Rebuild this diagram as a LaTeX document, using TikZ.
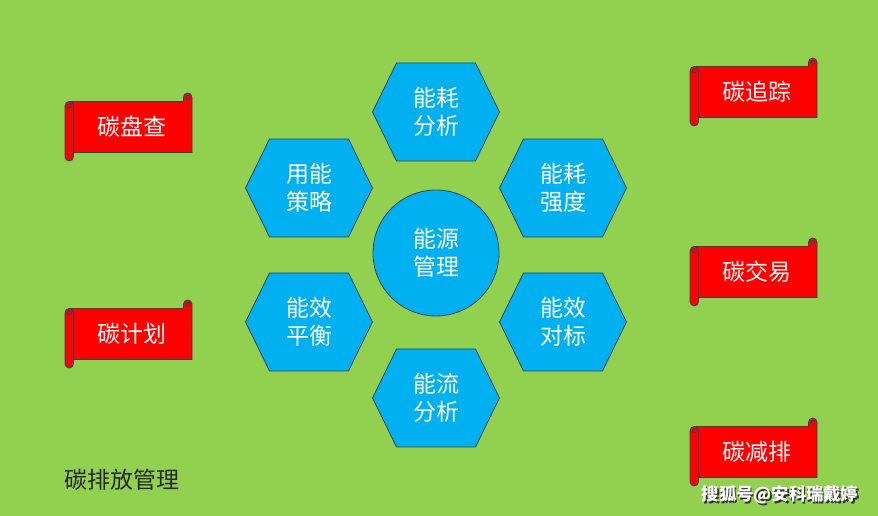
\documentclass[tikz,border=0pt]{standalone}
\usepackage{fontspec}
\newfontfamily\cjk{Noto Sans CJK SC}
\usetikzlibrary{calc}

\definecolor{bggreen}{RGB}{146,208,80}
\definecolor{hexblue}{RGB}{0,176,240}
\definecolor{edgegray}{RGB}{45,70,85}
\definecolor{scrollred}{RGB}{255,0,0}

% hexagon: x, y, name, text
\newcommand{\hexa}[4]{%
  \draw[hexfill] (#1-63.5,#2) -- (#1-39.5,#2+49) -- (#1+39.5,#2+49)
    -- (#1+63.5,#2) -- (#1+39.5,#2-49) -- (#1-39.5,#2-49) -- cycle;
  \node[cntext] (#3) at (#1,#2) {#4};}

% scroll: left x, top y, name, text
\newcommand{\scrollbox}[4]{%
  \begin{scope}[shift={(#1,#2)}]
    \draw[scrollfill] (4.25,-8.5) -- (118.5,-8.5) -- (118.5,-4.25)
      arc[start angle=180,end angle=0,radius=4.25pt] -- (127,-59.5) -- (4.25,-59.5) -- cycle;
    \draw[scrollfill] (122.75,-4.25) circle[radius=2pt];
    \draw[scrollfill,rounded corners=4.25pt] (0,-8.5) rectangle (8.5,-68);
    \draw[scrollfill] (4.25,-12.75) circle[radius=2pt];
    \node[cntext] (#3) at (67,-34) {#4};
  \end{scope}}

\begin{document}
\begin{tikzpicture}[x=1pt,y=1pt,
  hexfill/.style={fill=hexblue,draw=edgegray,line width=0.8pt},
  scrollfill/.style={fill=scrollred,draw=edgegray,line width=0.8pt},
  cntext/.style={text=white,align=center,inner sep=0pt,
    font=\cjk\fontsize{23}{28}\selectfont}]

\fill[bggreen] (0,0) rectangle (878,516);

% centre
\draw[hexfill] (436,263) circle[radius=63pt];
\node[cntext] (core) at (436,263) {能源\\管理};

% ring of hexagons
\hexa{436}{404}{hxa}{能耗\\分析}
\hexa{563}{328}{hxb}{能耗\\强度}
\hexa{563}{194}{hxc}{能效\\对标}
\hexa{436}{118}{hxd}{能流\\分析}
\hexa{309}{194}{hxe}{能效\\平衡}
\hexa{309}{328}{hxf}{用能\\策略}

% scrolls
\scrollbox{65}{423}{pancha}{碳盘查}
\scrollbox{65}{216}{jihua}{碳计划}
\scrollbox{690}{458}{zhuizong}{碳追踪}
\scrollbox{690}{278}{jiaoyi}{碳交易}
\scrollbox{690}{98}{jianpai}{碳减排}

\node[font=\cjk\fontsize{23}{28}\selectfont,text=black!85] (title) at (122,36) {碳排放管理};

% watermark
\node[font=\cjk\bfseries\fontsize{17.3}{21}\selectfont,text=black!80] (markshadow) at (781.5,19.5) {搜狐号@安科瑞戴婷};
\node[font=\cjk\bfseries\fontsize{17.3}{21}\selectfont,text=white] (mark) at (780,21) {搜狐号@安科瑞戴婷};
\end{tikzpicture}
\end{document}
